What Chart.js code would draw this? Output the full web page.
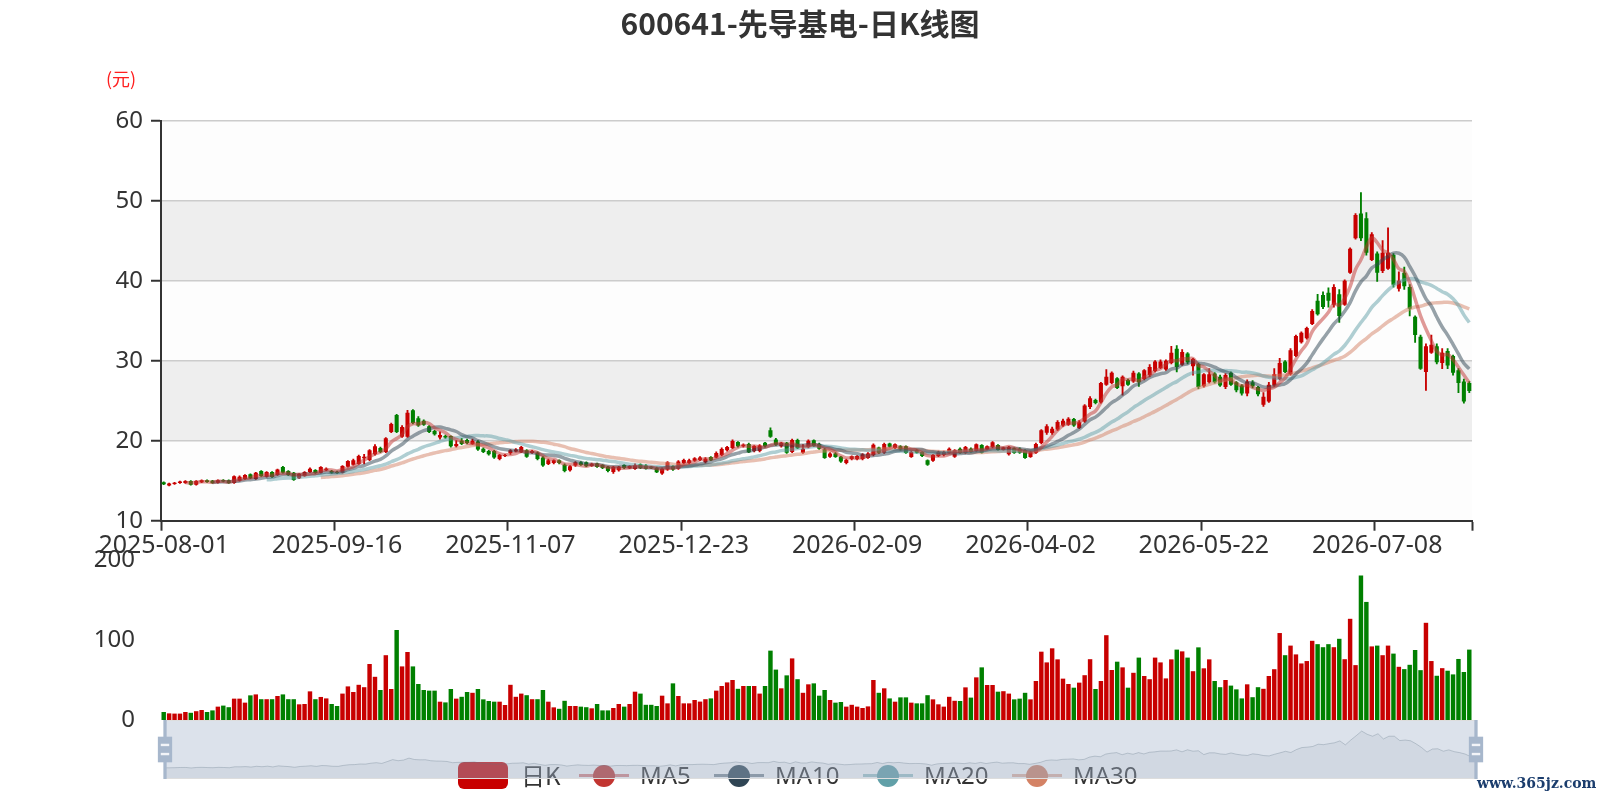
<!DOCTYPE html>
<html>
<head>
<meta charset="utf-8">
<script src="https://cdn.jsdelivr.net/npm/chart.js@4.4.1/dist/chart.umd.min.js"></script>
<style>
html,body{margin:0;padding:0;background:#fff;width:1600px;height:800px;overflow:hidden;font-family:"Noto Sans","Noto Sans CJK SC",sans-serif;}
#wrap{position:relative;width:1600px;height:800px;}
canvas{position:absolute;left:0;}
#c1{top:0;z-index:1}
#c2{top:500px;z-index:2}
#c3{top:720px;z-index:4}
.t{position:absolute;white-space:nowrap;z-index:3}
.lg{font-size:24px;line-height:28px;color:#333;top:761px}
.ln{position:absolute;height:3px;top:774px;width:50px;z-index:3}
.dot{position:absolute;width:22px;height:22px;border-radius:50%;top:764.5px;z-index:3}
</style>
</head>
<body>
<div id="wrap">
  <div class="t" style="left:0;width:1600px;text-align:center;top:4px;line-height:36px;font-size:30px;font-weight:bold;color:#333;font-family:'Noto Sans CJK SC','Noto Sans',sans-serif;">600641-先导基电-日K线图</div>
  <div class="t" style="left:106px;top:66px;line-height:24px;font-size:18px;color:#ff2020;font-family:'Noto Sans CJK SC',sans-serif;">(元)</div>
  <canvas id="c1" width="1600" height="600"></canvas>
  <canvas id="c2" width="1600" height="260"></canvas>
  <!-- legend -->
  <div class="t" style="left:458px;top:762px;width:50px;height:27px;border-radius:6px;background:#c80000;"></div>
  <div class="t lg" style="left:521px;font-family:'Noto Sans CJK SC',sans-serif;">日K</div>
  <div class="ln" style="left:579px;background:rgba(194,53,49,0.6)"></div>
  <div class="dot" style="left:592.5px;background:#c23531"></div>
  <div class="t lg" style="left:640px;">MA5</div>
  <div class="ln" style="left:714px;background:rgba(47,69,84,0.6)"></div>
  <div class="dot" style="left:728px;background:#2f4554"></div>
  <div class="t lg" style="left:775px;">MA10</div>
  <div class="ln" style="left:863px;background:rgba(97,160,168,0.6)"></div>
  <div class="dot" style="left:877px;background:#61a0a8"></div>
  <div class="t lg" style="left:924px;">MA20</div>
  <div class="ln" style="left:1012px;background:rgba(212,130,101,0.6)"></div>
  <div class="dot" style="left:1026px;background:#d48265"></div>
  <div class="t lg" style="left:1073px;">MA30</div>
  <canvas id="c3" width="1600" height="60"></canvas>
  <div class="t" style="left:1477px;top:776px;line-height:15px;font-size:14px;font-weight:bold;color:#1b3d6d;font-family:'DejaVu Serif',serif;z-index:5">www.365jz.com</div>
</div>
<script>
// ---------- categories (trading days) ----------
const holidays = ['2025-10-01','2025-10-02','2025-10-03','2025-10-06','2025-10-07','2025-10-08',
  '2026-01-01','2026-01-02','2026-02-16','2026-02-17','2026-02-18','2026-02-19','2026-02-20','2026-02-23',
  '2026-04-06','2026-05-01','2026-05-04','2026-05-05','2026-06-19'];
const firstDay = '2025-08-01', lastDay = '2026-07-31';
function buildDates(){
  const hol = new Set(holidays); const out = [];
  const d = new Date(firstDay + 'T00:00:00Z'); const end = new Date(lastDay + 'T00:00:00Z').getTime();
  while (d.getTime() <= end) {
    const wd = d.getUTCDay(); const s = d.toISOString().slice(0,10);
    if (wd !== 0 && wd !== 6 && !hol.has(s)) out.push(s);
    d.setUTCDate(d.getUTCDate() + 1);
  }
  return out;
}
const dates = buildDates();

// ---------- series values ----------
const opens = [
14.8,14.4,14.6,14.7,14.7,14.95,14.5,14.8,15.05,15.0,
14.75,15.1,15.05,14.7,15.0,15.2,15.8,15.2,16.2,15.5,
16.1,15.7,16.7,16.2,16.0,15.3,15.6,16.1,16.35,16.0,
16.3,16.2,16.1,16.0,16.75,17.0,17.1,17.8,17.6,18.3,
19.1,18.6,21.1,23.2,20.5,20.5,23.8,22.8,22.5,21.8,
21.2,20.4,20.6,20.6,19.3,20.0,20.1,19.6,19.9,19.0,
18.7,18.7,17.7,18.1,18.45,18.65,18.55,18.8,18.45,18.5,
17.9,17.1,17.2,17.55,17.0,16.3,16.9,17.3,17.3,16.85,
17.15,16.95,16.75,16.1,16.3,16.95,16.55,16.45,17.05,16.9,
16.75,16.6,15.9,16.4,16.8,16.5,17.2,17.2,17.5,17.6,
17.3,17.95,17.9,18.2,18.8,19.1,19.85,19.3,19.6,18.7,
18.7,19.75,21.3,20.15,19.3,19.75,18.6,20.1,18.5,19.2,
20.05,19.6,18.9,18.0,18.4,18.0,17.2,17.7,17.7,17.7,
17.85,18.2,19.15,18.5,19.65,19.1,19.3,19.3,17.95,18.8,
18.6,17.55,17.5,18.1,18.2,18.45,18.0,19.0,18.45,19.0,
18.7,19.45,18.9,19.2,19.45,18.85,18.3,19.05,19.0,18.8,
17.95,18.5,19.7,21.0,20.95,21.4,21.9,22.0,22.7,21.6,
22.4,24.2,25.1,24.8,27.0,27.2,27.8,26.8,27.6,27.4,
28.4,27.7,28.2,28.7,29.1,28.9,29.7,31.5,29.5,30.9,
29.3,29.6,26.8,27.3,28.4,28.0,26.7,28.5,27.3,26.9,
25.9,27.3,26.7,24.5,24.9,26.9,27.7,29.9,28.3,30.6,
32.3,32.8,34.6,37.5,38.2,38.5,37.0,38.3,37.0,41.0,
45.3,48.4,47.8,42.6,43.4,41.2,41.5,43.2,39.0,41.0,
39.2,35.5,33.0,28.6,31.0,31.8,29.7,31.2,30.6,28.8,
27.4,27.2];
const closes = [
14.55,14.65,14.75,14.9,14.95,14.5,14.95,15.05,14.85,14.7,
15.05,14.9,14.7,15.55,15.5,15.7,15.3,16.0,15.6,16.1,
15.45,16.4,16.0,15.7,15.1,15.85,16.1,16.5,15.95,16.7,
16.5,16.0,15.95,16.85,17.45,17.55,18.1,18.0,18.8,19.3,
18.6,20.3,22.1,21.1,21.7,23.5,22.2,21.9,22.0,21.1,
20.8,20.7,20.4,19.3,19.6,19.6,19.7,20.0,18.9,18.6,
18.3,17.9,18.2,18.2,18.8,18.9,19.2,18.0,18.7,17.7,
16.9,17.55,17.55,17.2,16.2,16.8,17.3,16.95,16.8,17.1,
16.7,16.6,16.2,16.7,16.75,16.6,16.85,16.9,16.6,16.5,
16.55,16.05,16.5,17.3,16.4,17.4,17.6,17.55,17.8,17.9,
17.75,17.55,18.45,18.95,19.2,19.95,19.3,19.5,18.55,19.35,
19.4,19.3,20.5,19.5,19.75,18.5,20.1,19.05,19.0,20.0,
19.35,19.0,17.85,18.4,17.95,17.4,17.6,18.05,18.1,18.3,
18.4,19.5,18.5,19.6,19.25,19.55,18.9,18.45,18.6,18.5,
18.1,17.0,18.2,18.6,18.6,19.0,18.8,18.45,19.2,18.6,
19.55,18.5,19.3,19.8,18.85,19.15,19.2,18.45,18.5,17.85,
18.6,19.6,21.3,21.8,21.5,22.35,22.5,22.75,21.9,22.3,
24.4,25.3,24.7,27.2,28.0,28.5,26.6,28.0,27.0,28.5,
27.3,28.8,29.2,29.9,29.9,30.0,31.0,29.2,31.1,29.8,
30.2,26.7,28.3,28.3,27.3,26.9,28.2,27.0,26.3,25.9,
27.4,26.8,25.8,25.5,27.0,28.3,29.7,28.6,31.3,33.1,
33.5,34.1,36.2,35.8,36.7,37.5,39.2,35.6,40.0,44.0,
48.2,45.3,43.5,45.8,41.0,43.5,43.5,39.5,40.0,39.3,
36.5,33.2,29.0,31.8,32.0,29.8,31.0,29.4,28.5,27.2,
24.9,26.2];
const lows = [
14.5,14.35,14.55,14.65,14.65,14.45,14.45,14.75,14.8,14.65,
14.7,14.85,14.65,14.65,14.95,15.15,15.25,15.15,15.55,15.45,
15.4,15.65,15.95,15.65,15.05,15.25,15.55,16.0,15.9,15.95,
16.25,15.9,15.9,15.95,16.7,16.95,17.05,17.1,17.5,18.2,
18.5,18.5,21.0,21.0,20.4,20.4,22.1,21.8,21.9,21.0,
20.7,20.2,20.3,19.2,19.2,19.5,19.6,19.5,18.8,18.5,
18.2,17.8,17.6,18.0,18.3,18.6,18.5,17.9,18.4,17.6,
16.8,17.0,17.1,17.1,16.1,16.2,16.8,16.9,16.75,16.8,
16.65,16.5,16.1,15.9,16.2,16.5,16.5,16.4,16.5,16.45,
16.5,16.0,15.8,16.3,16.3,16.4,17.1,17.1,17.4,17.5,
17.2,17.5,17.85,18.1,18.7,19.0,19.2,19.2,18.5,18.6,
18.6,19.2,20.4,19.4,19.2,18.4,18.5,19.0,18.4,19.1,
19.3,18.9,17.8,17.9,17.9,17.3,17.1,17.6,17.6,17.6,
17.8,18.1,18.4,18.4,19.2,19.0,18.8,18.4,17.9,18.45,
18.0,16.9,17.4,18.0,18.1,18.4,17.9,18.4,18.4,18.55,
18.6,18.45,18.85,19.1,18.8,18.8,18.2,18.4,18.4,17.8,
17.9,18.4,19.6,20.8,20.8,21.3,21.8,21.9,21.8,21.5,
22.3,24.0,24.6,24.7,26.9,27.1,26.5,25.7,26.9,27.3,
26.8,27.6,28.0,28.6,29.0,28.8,29.6,28.6,29.4,29.6,
28.2,26.5,26.7,27.2,27.2,26.8,26.5,26.9,26.1,25.7,
25.6,26.6,25.6,24.3,24.8,26.8,27.6,28.5,28.2,30.5,
32.2,32.7,34.5,35.7,36.5,36.7,36.7,34.8,36.9,40.9,
45.2,45.0,43.2,42.5,39.9,41.0,41.4,39.2,38.7,38.9,
35.6,32.3,28.9,26.3,30.9,29.6,29.0,29.0,28.2,26.0,
24.7,26.0];
const highs = [
14.85,14.7,14.8,14.95,15.0,15.0,15.0,15.1,15.1,15.05,
15.1,15.15,15.1,15.6,15.6,15.75,15.85,16.05,16.25,16.15,
16.15,16.45,16.8,16.25,16.05,15.9,16.15,16.6,16.4,16.75,
16.6,16.3,16.2,16.9,17.5,17.7,18.2,18.3,18.9,19.5,
19.2,20.4,22.2,23.3,21.9,23.8,23.9,23.0,22.6,21.9,
21.3,21.1,20.7,20.6,20.0,20.3,20.2,20.2,20.0,19.1,
18.8,18.8,18.3,18.3,18.9,19.0,19.3,18.9,18.8,18.6,
18.0,17.7,17.6,17.6,17.1,16.9,17.4,17.4,17.35,17.2,
17.2,17.0,16.8,16.8,16.8,17.0,16.9,17.1,17.1,17.0,
16.8,16.7,16.6,17.4,16.9,17.5,17.7,17.7,17.9,18.0,
17.9,18.0,18.6,19.1,19.3,20.1,19.9,19.6,19.7,19.4,
19.5,19.8,21.6,20.3,19.8,19.8,20.2,20.2,19.5,20.1,
20.1,19.7,19.0,18.5,18.5,18.05,17.7,18.1,18.15,18.4,
18.5,19.6,19.2,19.7,19.7,19.6,19.4,19.35,18.7,18.9,
18.65,17.6,18.3,18.7,18.7,19.1,18.9,19.1,19.3,19.1,
19.6,19.5,19.35,19.9,19.5,19.2,19.3,19.1,19.1,18.9,
18.7,19.7,21.4,22.0,21.7,22.5,22.7,22.9,22.8,22.5,
24.5,25.5,25.2,27.3,28.9,28.6,27.9,28.1,27.7,28.7,
28.5,28.9,29.5,30.0,30.1,30.1,31.8,31.9,31.4,31.0,
30.3,29.7,28.4,29.0,28.5,28.2,28.4,28.6,27.4,27.0,
27.6,27.5,26.8,26.0,27.3,29.0,30.3,30.0,31.5,33.2,
33.6,34.2,36.4,38.3,38.6,39.1,39.5,38.9,40.1,44.1,
48.4,51.0,48.5,46.0,43.6,45.0,46.6,43.4,41.1,41.7,
39.5,35.6,33.2,32.1,33.2,32.1,31.5,31.5,30.7,29.0,
27.7,27.4];
const volumes = [
10,8.3,8,8,10,9,11,12.5,10,12,
16.7,18,16,26.7,26.7,21.7,30.8,32,26,26,
26,30,32,26,26,19.6,20,35.8,26,28.8,
27,20,17.5,33,42,35,44,41,70,54,
37.5,81,38.75,112.5,67,85,67,45,37.5,36.7,
36.7,22.9,22,38.75,26.7,29,35,34,38.75,25.8,
23.75,22.9,22.9,18.75,44,29,33,31,26,26,
37.5,22.9,15.8,14,24,17.5,17.5,16.7,16,14.6,
20,12,12,15,20,16.7,20,35.4,33,19,
19,17.5,30.4,20.8,45.8,30,20.8,20.8,25,23,
26,27,36.7,42.5,47,50,39,42.5,42.5,42.5,
33,42.5,86.7,63,39.6,55.8,77,51,34,44.6,
45.8,30.4,37.5,25,21.7,22.5,16.7,19,16.7,15,
17,50,34,39.6,27,22.9,28.3,28.3,21.7,20.8,
20.8,31,25.8,19.6,16.7,29,24,23.75,40.8,28,
53.3,65.8,43.75,43.75,35.4,36,33,25.8,26.7,34,
25.8,48.75,85.4,72,89.6,75.8,51.7,45,40.4,46.7,
56,76,38.75,48.75,106,62.5,72.9,65.8,40.4,59,
78,55,51,78,72,52,75.8,88,85.8,78,
61,90.8,64.6,75.8,48.75,41,50,43,38.3,27,
44.6,28.5,41,39,55,63.5,108.7,81,93,82,
70.7,73.7,99,94.8,91,94.8,91,101.5,76,126.5,
68.6,180.6,147.6,92,93,81,93,83,66.5,63.6,
69,87.5,62.3,121.5,73.7,55.3,64.8,61.6,57,76.3,
60,88];
const priceTicks = [10,20,30,40,50,60];
const volumeTicks = [0,100,200];
const maPeriods = [5,10,20,30];
const maNames = ['MA5','MA10','MA20','MA30'];
const maColors = ['rgba(194,53,49,0.5)','rgba(47,69,84,0.5)','rgba(97,160,168,0.5)','rgba(212,130,101,0.5)'];
const UP = '#c80000', DOWN = '#008000';

// ---------- derived ----------
function movingAverage(n){
  const r = [];
  for (let i = 0; i < closes.length; i++) {
    if (i < n - 1) { r.push(null); continue; }
    let s = 0; for (let j = 0; j < n; j++) s += closes[i - j];
    r.push(+(s / n).toFixed(3));
  }
  return r;
}
const candleColors = closes.map((c, i) => c >= opens[i] ? UP : DOWN);
const FONT = '"Noto Sans","Noto Sans CJK SC",sans-serif';
Chart.defaults.font.family = FONT;
Chart.defaults.color = '#333';

const bandPlugin = {
  id: 'bands',
  beforeDraw(chart){
    const {ctx, chartArea: a} = chart; const y = chart.scales.y;
    ctx.save();
    for (let k = 0; k < priceTicks.length - 1; k++) {
      const y0 = y.getPixelForValue(priceTicks[k]), y1 = y.getPixelForValue(priceTicks[k+1]);
      ctx.fillStyle = k % 2 === 0 ? 'rgba(250,250,250,0.3)' : 'rgba(200,200,200,0.3)';
      ctx.fillRect(a.left, y1, a.right - a.left, y0 - y1);
    }
    ctx.restore();
  }
};

// ---------- price chart ----------
const priceDatasets = [
  {type:'bar', label:'wick', data: lows.map((l,i)=>[l, highs[i]]), backgroundColor: candleColors,
   barThickness: 1.2, grouped:false, order: 3},
  {type:'bar', label:'日K', data: opens.map((o,i)=>[o, closes[i]]), backgroundColor: candleColors,
   barPercentage: 0.75, categoryPercentage: 1, grouped:false, minBarLength: 1, order: 2}
];
maPeriods.forEach((n, k) => priceDatasets.push({
  type:'line', label: maNames[k], data: movingAverage(n), borderColor: maColors[k], borderWidth: 3.5,
  pointRadius: 0, tension: 0.4, fill: false, order: 1
}));

new Chart(document.getElementById('c1'), {
  type: 'bar',
  data: {labels: dates, datasets: priceDatasets},
  options: {
    responsive:false, animation:false, devicePixelRatio: 1,
    layout:{padding:{top:120.7, right:128, left:0, bottom:0}},
    plugins:{legend:{display:false}, tooltip:{enabled:false}, title:{display:false}},
    scales:{
      x:{
        offset:true,
        grid:{offset:true, drawOnChartArea:false, drawTicks:true, tickLength:10, tickWidth:2,
          tickColor: ctx => (ctx.type !== 'tick' || ctx.index % 32 === 0) ? '#333' : 'rgba(0,0,0,0)'},
        border:{color:'#333', width:2},
        ticks:{autoSkip:false, maxRotation:0, minRotation:0, padding:0, color:'#333', font:{size:25},
          callback: function(v, i){ return i % 32 === 0 ? dates[i] : ''; }},
        afterFit: s => { s.height = 79.3; }
      },
      y:{
        min: priceTicks[0], max: priceTicks[priceTicks.length-1],
        afterBuildTicks: s => { s.ticks = priceTicks.map(v => ({value: v})); },
        ticks:{color:'#333', font:{size:24}, padding:8},
        grid:{color:'#ccc', lineWidth:1.5, tickColor:'#333', tickLength:10, tickWidth:2},
        border:{color:'#333', width:2},
        afterFit: s => { s.width = 161; }
      }
    }
  },
  plugins:[bandPlugin]
});

// ---------- volume chart (canvas top 500 -> area 560..720) ----------
new Chart(document.getElementById('c2'), {
  type:'bar',
  data:{labels: dates, datasets:[{label:'成交量', data: volumes, backgroundColor: candleColors,
    barPercentage:0.82, categoryPercentage:1}]},
  options:{
    responsive:false, animation:false, devicePixelRatio: 1,
    layout:{padding:{top:60, right:128, left:0, bottom:40}},
    plugins:{legend:{display:false}, tooltip:{enabled:false}},
    scales:{
      x:{display:false, offset:true},
      y:{min: volumeTicks[0], max: volumeTicks[volumeTicks.length-1],
        afterBuildTicks: s => { s.ticks = volumeTicks.map(v => ({value: v})); },
        ticks:{color:'#333', font:{size:24}, padding:18},
        grid:{display:false}, border:{display:false},
        afterFit: s => { s.width = 161; }}
    }
  }
});

// ---------- slider (data zoom look) ----------
const cMin = Math.min(...closes), cMax = Math.max(...closes), cPad = (cMax - cMin) * 0.3;
function drawHandle(ctx, cx, top, bottom){
  const s = (bottom - top) / 34.3;
  ctx.fillStyle = '#a7b7cc';
  ctx.fillRect(cx - 0.95*s, top, 1.9*s, bottom - top);
  ctx.fillRect(cx - 4.15*s, top + 9.7*s, 8.3*s, 14.9*s);
  ctx.fillStyle = 'rgba(255,255,255,0.85)';
  ctx.fillRect(cx - 2.45*s, top + 13.8*s, 4.9*s, 1.4*s);
  ctx.fillRect(cx - 2.45*s, top + 19.1*s, 4.9*s, 1.4*s);
}
const sliderPlugin = {
  id:'slider',
  afterDraw(chart){
    const ctx = chart.ctx, a = chart.chartArea;
    ctx.save();
    ctx.fillStyle = 'rgba(167,183,204,0.4)';
    ctx.fillRect(a.left, a.top, a.right - a.left, a.bottom - a.top);
    ctx.strokeStyle = '#ddd'; ctx.lineWidth = 1;
    ctx.strokeRect(a.left + 0.5, a.top + 0.5, a.right - a.left - 1, a.bottom - a.top - 1);
    drawHandle(ctx, a.left + 1, a.top, a.bottom);
    drawHandle(ctx, a.right, a.top, a.bottom);
    ctx.restore();
  }
};
new Chart(document.getElementById('c3'), {
  type:'line',
  data:{labels: dates, datasets:[{data: closes, borderColor:'rgba(47,69,84,0.3)', borderWidth:1,
    backgroundColor:'rgba(47,69,84,0.09)', fill:'start', pointRadius:0, tension:0}]},
  options:{
    responsive:false, animation:false, devicePixelRatio: 1,
    layout:{padding:{top:0, right:124, left:164, bottom:1}},
    plugins:{legend:{display:false}, tooltip:{enabled:false}},
    scales:{
      x:{display:false, offset:false},
      y:{display:false, min: cMin - cPad, max: cMax + cPad}
    }
  },
  plugins:[sliderPlugin]
});
</script>
</body>
</html>
